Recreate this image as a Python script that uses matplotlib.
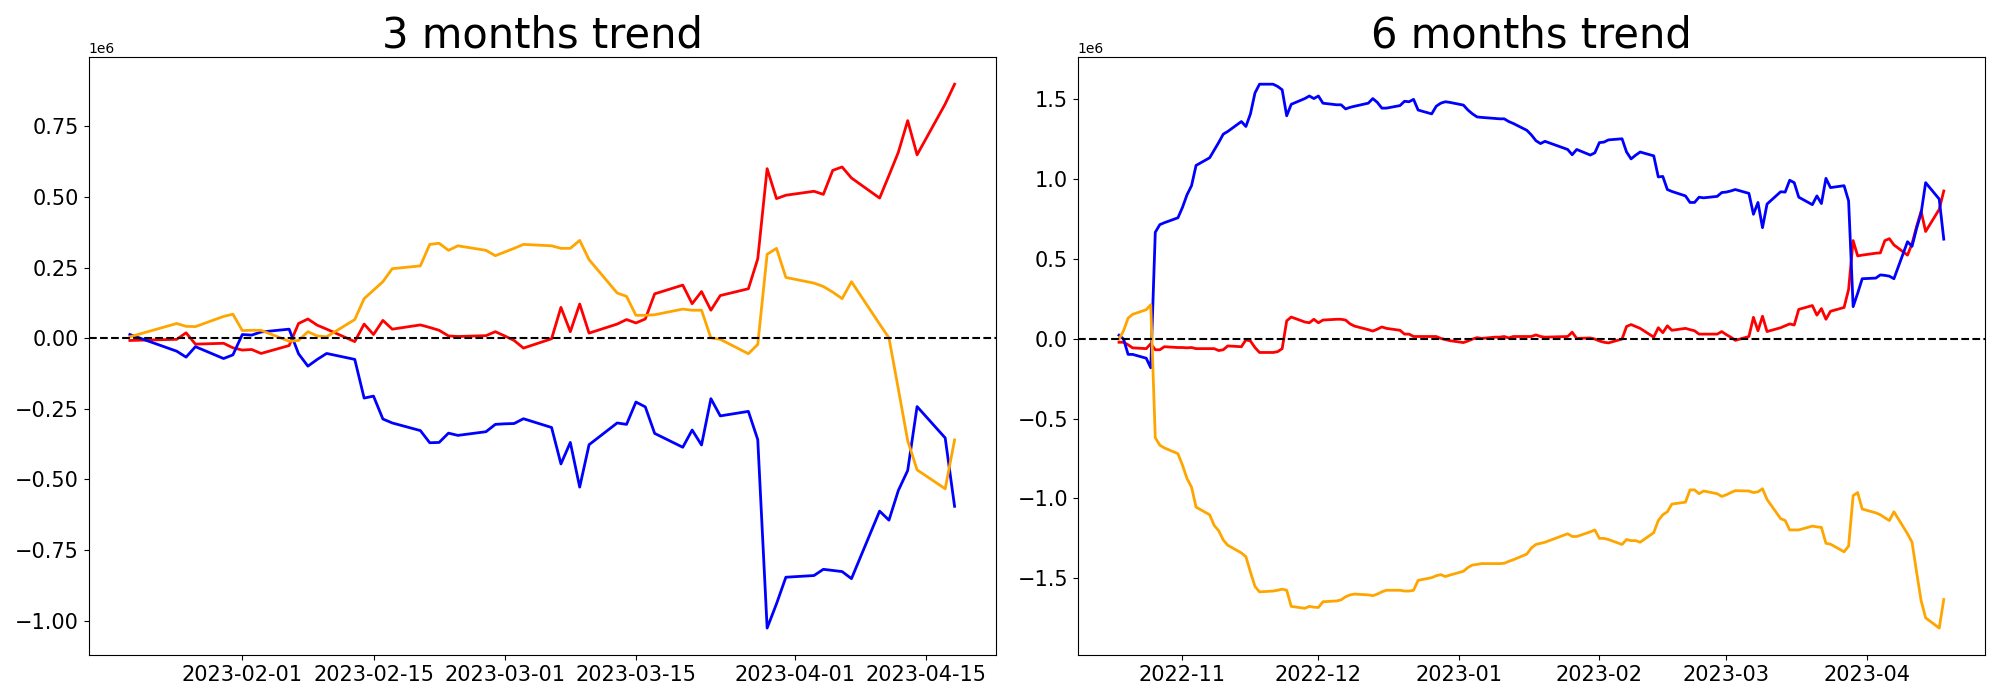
import numpy as np
import pandas as pd
import matplotlib
matplotlib.use("Agg")
import matplotlib.pyplot as plt

# trading days shown (no points on 2023-01-23 / 01-24)
dates_6m = pd.bdate_range("2022-10-18", "2023-04-18").drop(
    pd.to_datetime(["2023-01-23", "2023-01-24"]))
dates_3m = dates_6m[dates_6m >= "2023-01-20"]

# 3 months trend (x1e6)
red_3m = [-0.008,
          -0.004, 0.019, -0.021,
          -0.018, -0.034, -0.042, -0.040, -0.054,
          -0.026, 0.052, 0.068, 0.046, 0.032,
          -0.012, 0.050, 0.013, 0.063, 0.032,
          0.047, 0.038, 0.028, 0.008, 0.006,
          0.009, 0.023, 0.008, -0.008, -0.035,
          -0.002, 0.109, 0.023, 0.121, 0.018,
          0.050, 0.066, 0.054, 0.068, 0.157,
          0.188, 0.122, 0.165, 0.099, 0.151,
          0.175, 0.281, 0.600, 0.494, 0.506,
          0.520, 0.509, 0.594, 0.606, 0.567,
          0.496, 0.576, 0.658, 0.770, 0.649,
          0.829, 0.899]
blue_3m = [0.013,
           -0.046, -0.067, -0.030,
           -0.072, -0.059, 0.013, 0.011, 0.022,
           0.032, -0.055, -0.099, -0.075, -0.054,
           -0.075, -0.212, -0.205, -0.286, -0.300,
           -0.327, -0.370, -0.369, -0.336, -0.344,
           -0.331, -0.305, -0.303, -0.302, -0.285,
           -0.316, -0.445, -0.369, -0.527, -0.377,
           -0.300, -0.305, -0.226, -0.243, -0.337,
           -0.386, -0.325, -0.378, -0.214, -0.275,
           -0.259, -0.359, -1.026, -0.940, -0.846,
           -0.840, -0.818, -0.822, -0.826, -0.851,
           -0.612, -0.644, -0.539, -0.468, -0.242,
           -0.353, -0.595]
orange_3m = [0.005,
             0.052, 0.042, 0.041,
             0.077, 0.085, 0.027, 0.028, 0.028,
             -0.011, -0.008, 0.023, 0.008, 0.005,
             0.066, 0.140, 0.170, 0.200, 0.246,
             0.256, 0.332, 0.336, 0.311, 0.327,
             0.311, 0.292, 0.305, 0.318, 0.332,
             0.327, 0.318, 0.318, 0.346, 0.278,
             0.160, 0.148, 0.081, 0.081, 0.083,
             0.103, 0.099, 0.099, 0.001, -0.004,
             -0.055, -0.022, 0.297, 0.318, 0.215,
             0.195, 0.183, 0.163, 0.140, 0.200,
             0.050, 0.001, -0.180, -0.363, -0.466,
             -0.533, -0.360]

# 6 months trend (x1e6)
red_6m = [-0.022, -0.022, -0.038, -0.057,
          -0.062, -0.031, -0.069, -0.069, -0.050,
          -0.055, -0.055, -0.057, -0.055, -0.062,
          -0.062, -0.062, -0.074, -0.069, -0.045,
          -0.050, -0.007, -0.014, -0.055, -0.086,
          -0.086, -0.081, -0.062, 0.112, 0.136,
          0.105, 0.100, 0.122, 0.100, 0.117,
          0.122, 0.122, 0.117, 0.093, 0.079,
          0.057, 0.048, 0.060, 0.074, 0.065,
          0.053, 0.029, 0.029, 0.014, 0.014,
          0.014, 0.014, 0.002, -0.005, -0.012,
          -0.024, -0.014, -0.002, 0.007, 0.002,
          0.010, 0.010, 0.014, 0.005, 0.014,
          0.014, 0.014, 0.024, 0.014, 0.010,
          0.014, 0.041, 0.002,
          0.005, -0.002, -0.014, -0.022, -0.026,
          -0.002, 0.077, 0.089, 0.077, 0.065,
          0.010, 0.069, 0.038, 0.081, 0.053,
          0.065, 0.057, 0.050, 0.029, 0.029,
          0.029, 0.045, 0.026, 0.010, -0.010,
          0.014, 0.134, 0.050, 0.141, 0.045,
          0.069, 0.081, 0.093, 0.086, 0.184,
          0.208, 0.148, 0.189, 0.122, 0.172,
          0.196, 0.309, 0.615, 0.519, 0.524,
          0.536, 0.538, 0.615, 0.627, 0.588,
          0.524, 0.596, 0.703, 0.799, 0.672,
          0.811, 0.926]
blue_6m = [0.022, -0.002, -0.098, -0.098,
           -0.122, -0.182, 0.667, 0.715, 0.727,
           0.758, 0.823, 0.902, 0.959, 1.086,
           1.134, 1.182, 1.230, 1.282, 1.299,
           1.361, 1.330, 1.409, 1.540, 1.595,
           1.595, 1.581, 1.560, 1.397, 1.469,
           1.505, 1.521, 1.505, 1.521, 1.476,
           1.466, 1.466, 1.440, 1.450, 1.457,
           1.476, 1.505, 1.481, 1.445, 1.445,
           1.461, 1.488, 1.485, 1.500, 1.433,
           1.409, 1.457, 1.476, 1.485, 1.481,
           1.464, 1.433, 1.409, 1.390, 1.387,
           1.380, 1.378, 1.378, 1.361, 1.349,
           1.306, 1.277, 1.241, 1.223, 1.237,
           1.186, 1.153, 1.186,
           1.151, 1.165, 1.229, 1.232, 1.246,
           1.253, 1.170, 1.127, 1.150, 1.170,
           1.146, 1.014, 1.017, 0.935, 0.923,
           0.895, 0.854, 0.854, 0.887, 0.883,
           0.892, 0.916, 0.919, 0.926, 0.935,
           0.911, 0.780, 0.854, 0.696, 0.844,
           0.921, 0.919, 0.993, 0.978, 0.887,
           0.840, 0.895, 0.847, 1.005, 0.947,
           0.959, 0.864, 0.201, 0.285, 0.376,
           0.380, 0.400, 0.397, 0.392, 0.376,
           0.608, 0.579, 0.691, 0.787, 0.978,
           0.875, 0.624]
orange_6m = [-0.002, 0.050, 0.129, 0.153,
             0.182, 0.213, -0.620, -0.667, -0.684,
             -0.720, -0.792, -0.876, -0.930, -1.055,
             -1.103, -1.170, -1.203, -1.261, -1.294,
             -1.342, -1.366, -1.462, -1.552, -1.586,
             -1.581, -1.576, -1.569, -1.576, -1.677,
             -1.689, -1.677, -1.682, -1.684, -1.648,
             -1.643, -1.636, -1.617, -1.605, -1.600,
             -1.605, -1.610, -1.600, -1.586, -1.576,
             -1.576, -1.581, -1.581, -1.576, -1.514,
             -1.497, -1.485, -1.478, -1.490, -1.481,
             -1.457, -1.433, -1.418, -1.414, -1.409,
             -1.409, -1.409, -1.407, -1.395, -1.385,
             -1.349, -1.311, -1.289, -1.282, -1.275,
             -1.222, -1.239, -1.239,
             -1.210, -1.198, -1.251, -1.251, -1.258,
             -1.289, -1.258, -1.265, -1.265, -1.275,
             -1.215, -1.139, -1.103, -1.084, -1.036,
             -1.024, -0.947, -0.947, -0.971, -0.954,
             -0.971, -0.988, -0.978, -0.964, -0.952,
             -0.954, -0.964, -0.959, -0.940, -1.007,
             -1.127, -1.139, -1.198, -1.198, -1.198,
             -1.174, -1.179, -1.182, -1.282, -1.287,
             -1.335, -1.299, -0.983, -0.964, -1.067,
             -1.091, -1.103, -1.122, -1.139, -1.084,
             -1.222, -1.275, -1.462, -1.641, -1.749,
             -1.813, -1.634]

panels = [("3 months trend", dates_3m, red_3m, blue_3m, orange_3m),
          ("6 months trend", dates_6m, red_6m, blue_6m, orange_6m)]

fig, axes = plt.subplots(1, 2, figsize=(20, 7), dpi=100)
for ax, (title, dates, red, blue, orange) in zip(axes, panels):
    ax.plot(dates, np.array(red) * 1e6, color="red", linewidth=2)
    ax.plot(dates, np.array(blue) * 1e6, color="blue", linewidth=2)
    ax.plot(dates, np.array(orange) * 1e6, color="orange", linewidth=2)
    ax.axhline(0, color="black", linestyle="--", linewidth=1.5)
    ax.set_title(title, fontsize=30)
    ax.tick_params(labelsize=15)

plt.tight_layout()
plt.savefig("out.png")
